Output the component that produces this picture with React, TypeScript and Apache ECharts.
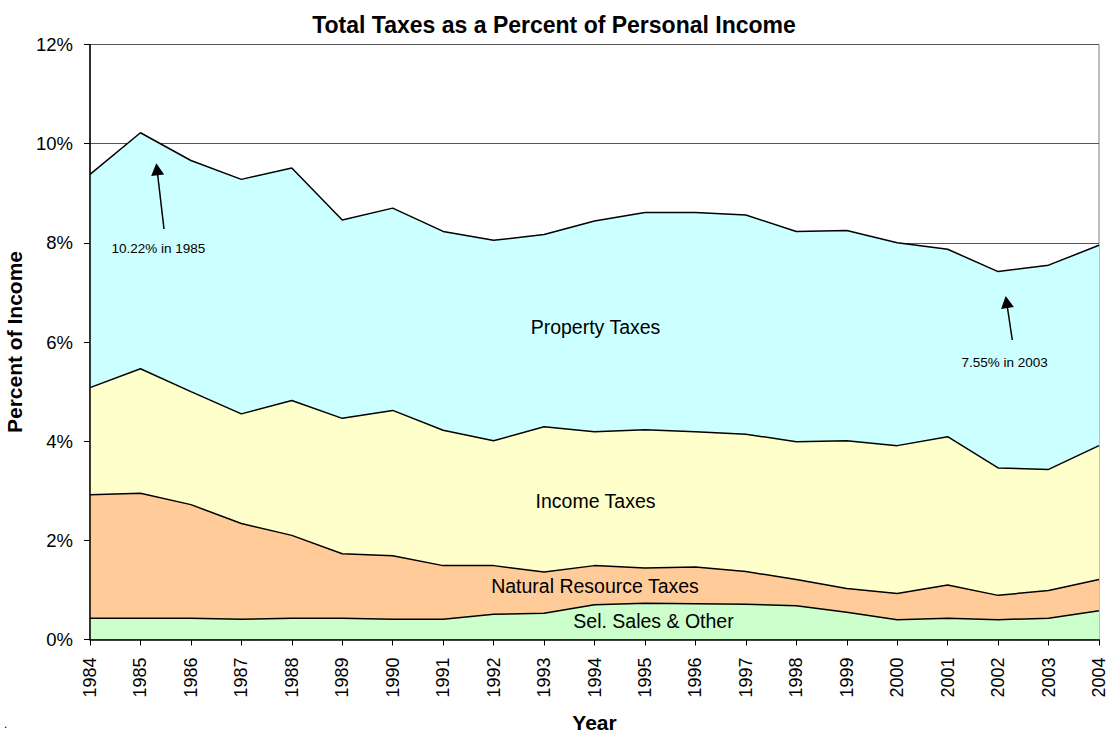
import React, { useEffect, useRef } from "react";
import * as echarts from "echarts";

const years = ["1984","1985","1986","1987","1988","1989","1990","1991","1992","1993","1994","1995","1996","1997","1998","1999","2000","2001","2002","2003","2004"];
const selSales = [0.43,0.43,0.43,0.41,0.43,0.43,0.41,0.41,0.51,0.53,0.70,0.73,0.72,0.71,0.68,0.55,0.40,0.43,0.40,0.43,0.58];
const naturalResource = [2.49,2.52,2.29,1.93,1.67,1.30,1.28,1.08,0.98,0.83,0.79,0.71,0.74,0.66,0.53,0.48,0.53,0.67,0.49,0.56,0.63];
const incomeTaxes = [2.16,2.51,2.28,2.21,2.72,2.73,2.93,2.73,2.52,2.93,2.70,2.79,2.73,2.77,2.78,2.98,2.98,2.99,2.57,2.44,2.70];
const propertyTaxes = [4.30,4.76,4.66,4.73,4.69,4.00,4.08,4.01,4.04,3.88,4.25,4.38,4.42,4.42,4.24,4.24,4.09,3.78,3.96,4.12,4.04];
const seriesNames = ["Sel. Sales & Other", "Natural Resource Taxes", "Income Taxes", "Property Taxes"];
const seriesColors = ["#CCFFCC", "#FFCC99", "#FFFFCC", "#CCFFFF"];

const FONT = "'Liberation Sans', Arial, sans-serif";

export default function App() {
  const ref = useRef<HTMLDivElement>(null);
  useEffect(() => {
    document.body.style.margin = "0";
    const chart = echarts.init(ref.current!, null, { renderer: "svg" });
    const data = [selSales, naturalResource, incomeTaxes, propertyTaxes];
    const series = data.map((d, i) => ({
      name: seriesNames[i],
      type: "line",
      stack: "total",
      data: d,
      symbol: "none",
      lineStyle: { color: "#000", width: 1.5 },
      areaStyle: { color: seriesColors[i], opacity: 1 },
      z: 2,
    }));
    const txt = (text: string, x: number, y: number, size: number, align = "center") => ({
      type: "text",
      x,
      y,
      z: 100,
      style: { text, fontSize: size, fontFamily: FONT, fill: "#000", align, verticalAlign: "middle" },
    });
    chart.setOption({
      animation: false,
      backgroundColor: "#fff",
      title: {
        text: "Total Taxes as a Percent of Personal Income",
        left: "center",
        top: 8,
        textStyle: { fontSize: 23, fontWeight: "bold", fontFamily: FONT, color: "#000" },
      },
      grid: {
        left: 90,
        right: 9,
        top: 44.5,
        bottom: 92.5,
        containLabel: false,
        outerBoundsMode: "none",
        show: true,
        borderColor: "#808080",
        borderWidth: 1,
        backgroundColor: "#fff",
      },
      xAxis: {
        type: "category",
        data: years,
        boundaryGap: false,
        name: "Year",
        nameLocation: "middle",
        nameGap: 72,
        nameTextStyle: { fontSize: 21, fontWeight: "bold", fontFamily: FONT, color: "#000" },
        axisLine: { lineStyle: { color: "#000", width: 1.5 } },
        axisTick: { show: true, inside: false, length: 6, alignWithLabel: true, lineStyle: { color: "#000" } },
        axisLabel: { rotate: 90, margin: 18, fontSize: 18, fontFamily: FONT, color: "#000" },
        splitLine: { show: false },
        z: 10,
      },
      yAxis: [
        {
          type: "value",
          min: 0,
          max: 12,
          interval: 2,
          position: "left",
          name: "Percent of Income",
          nameLocation: "middle",
          nameGap: 61,
          nameTextStyle: { fontSize: 21, fontWeight: "bold", fontFamily: FONT, color: "#000" },
          axisLine: { show: true, lineStyle: { color: "#000", width: 1.5 } },
          axisTick: { show: true, inside: false, length: 6, lineStyle: { color: "#000" } },
          axisLabel: { formatter: "{value}%", margin: 17, fontSize: 18.5, fontFamily: FONT, color: "#000" },
          splitLine: { show: false },
          z: 10,
        },
        {
          type: "value",
          min: 0,
          max: 12,
          interval: 2,
          position: "right",
          axisLine: { show: false },
          axisTick: { show: false },
          axisLabel: { show: false },
          splitLine: { show: true, lineStyle: { color: "#555", width: 1 } },
          z: 0,
        },
      ],
      series,
      graphic: [
        txt("Property Taxes", 595.5, 327, 19.5),
        txt("Income Taxes", 595.5, 501, 19.5),
        txt("Natural Resource Taxes", 595, 586, 19.5),
        txt("Sel. Sales & Other", 653.5, 621, 19.5),
        txt("10.22% in 1985", 111.5, 248.5, 13.5, "left"),
        txt("7.55% in 2003", 961.5, 362, 13.5, "left"),
        {
          type: "line",
          z: 100,
          shape: { x1: 164, y1: 229, x2: 157.7, y2: 175 },
          style: { stroke: "#000", lineWidth: 1.5 },
        },
        {
          type: "polygon",
          z: 100,
          shape: { points: [[156.3, 163.3], [164.2, 174.5], [151.2, 176.0]] },
          style: { fill: "#000" },
        },
        {
          type: "line",
          z: 100,
          shape: { x1: 1012.3, y1: 340, x2: 1007.5, y2: 308 },
          style: { stroke: "#000", lineWidth: 1.5 },
        },
        {
          type: "polygon",
          z: 100,
          shape: { points: [[1005.7, 296], [1013.9, 306.9], [1001.1, 308.9]] },
          style: { fill: "#000" },
        },
        txt(".", 4, 724, 12, "left"),
      ],
    });
    return () => chart.dispose();
  }, []);
  return <div ref={ref} style={{ position: "absolute", left: 0, top: 0, width: 1108, height: 732 }} />;
}
